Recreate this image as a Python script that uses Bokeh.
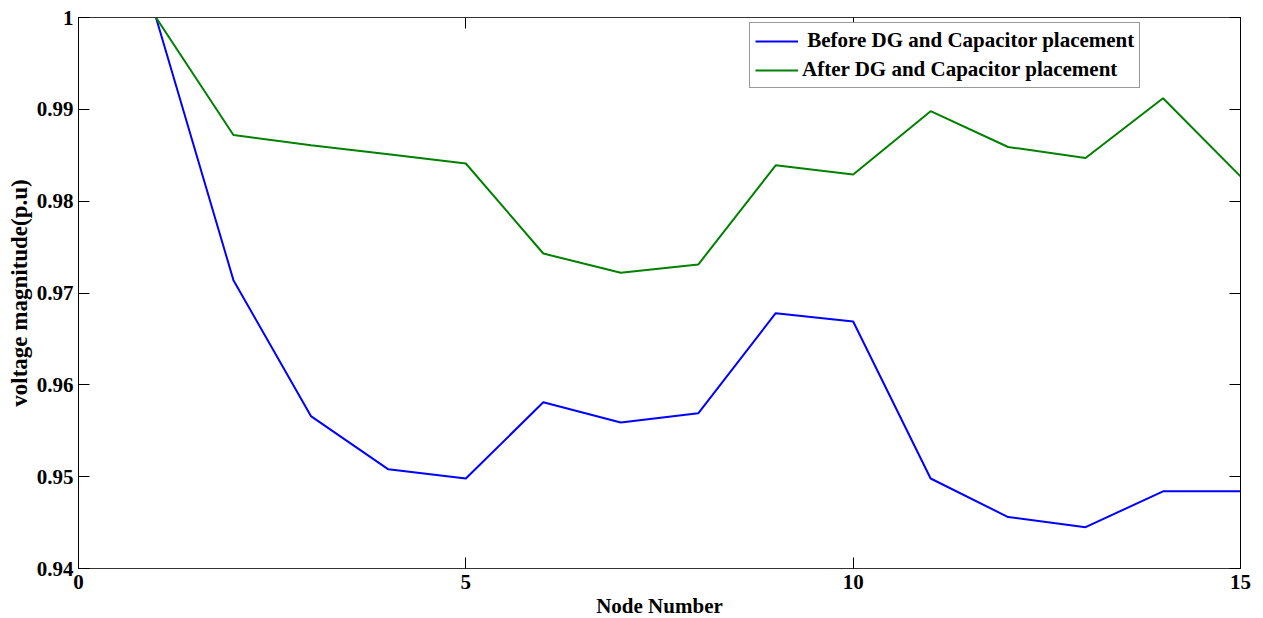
from bokeh.plotting import figure
from bokeh.models import LinearAxis, FixedTicker, Range1d, Legend, LegendItem, CustomLabelingPolicy
from bokeh.embed import file_html
from bokeh.resources import INLINE

nodes = list(range(1, 16))
before = [1.0, 0.9714, 0.9566, 0.9508, 0.9498, 0.9581, 0.9559, 0.9569,
          0.9678, 0.9669, 0.9498, 0.9456, 0.9445, 0.9484, 0.9484]
after = [1.0, 0.9872, 0.9861, 0.9851, 0.9841, 0.9743, 0.9722, 0.9731,
         0.9839, 0.9829, 0.9898, 0.9859, 0.9847, 0.9912, 0.9827]
x_ticks = [0, 5, 10, 15]
y_ticks = [0.94, 0.95, 0.96, 0.97, 0.98, 0.99, 1.0]
label_before = " Before DG and Capacitor placement"
label_after = "After DG and Capacitor placement"

FONT = "Liberation Serif"

p = figure(output_backend="svg", toolbar_location=None,
           frame_width=1162, frame_height=551,
           x_range=Range1d(0, 15), y_range=Range1d(0.94, 1.0),
           min_border_left=78, min_border_top=17, min_border_right=12,
           min_border_bottom=48)
p.grid.visible = False
p.outline_line_color = "#333333"
p.background_fill_color = "white"

r1 = p.line(nodes, before, line_color="#0000FF", line_width=2)
r2 = p.line(nodes, after, line_color="#008000", line_width=2)

hide_labels = CustomLabelingPolicy(code="""
const a = [...indices];
for (const i of a) indices.unset(i);
return indices;
""")

def style_axis(ax, labels=True):
    ax.major_tick_in = 11
    ax.major_tick_out = 0
    ax.minor_tick_in = 0
    ax.minor_tick_out = 0
    ax.major_tick_line_color = "black"
    ax.axis_line_color = "#333333"
    if labels:
        ax.major_label_text_font = FONT
        ax.major_label_text_font_style = "bold"
        ax.major_label_text_font_size = "21px"
        ax.major_label_text_color = "black"
    else:
        ax.major_label_policy = hide_labels

p.xaxis.ticker = FixedTicker(ticks=x_ticks)
p.yaxis.ticker = FixedTicker(ticks=y_ticks)
p.yaxis.formatter.use_scientific = False
style_axis(p.xaxis[0])
style_axis(p.yaxis[0])
p.yaxis[0].axis_line_color = "black"
p.xaxis.major_label_standoff = 6
p.yaxis.major_label_standoff = 5
p.xaxis.axis_label = "Node Number"
p.yaxis.axis_label = "voltage magnitude(p.u)"
p.xaxis.axis_label_text_font_size = "21px"
p.yaxis.axis_label_text_font_size = "23px"
for ax in (p.xaxis[0], p.yaxis[0]):
    ax.axis_label_text_font = FONT
    ax.axis_label_text_font_style = "bold"
    ax.axis_label_text_color = "black"
p.xaxis.axis_label_standoff = 2
p.yaxis.axis_label_standoff = 2

ax_top = LinearAxis(ticker=FixedTicker(ticks=x_ticks))
style_axis(ax_top, labels=False)
p.add_layout(ax_top, "above")
ax_right = LinearAxis(ticker=FixedTicker(ticks=y_ticks))
style_axis(ax_right, labels=False)
ax_right.axis_line_color = "black"
p.add_layout(ax_right, "right")

legend = Legend(items=[LegendItem(label=label_before, renderers=[r1]),
                       LegendItem(label=label_after, renderers=[r2])],
                location=(671, 480))
legend.label_text_font = FONT
legend.label_text_font_style = "bold"
legend.label_text_font_size = "21px"
legend.label_text_color = "black"
legend.glyph_width = 43
legend.glyph_height = 24
legend.label_height = 24
legend.label_standoff = 4
legend.spacing = 4
legend.padding = 5
legend.margin = 0
legend.border_line_color = "#333333"
legend.border_line_width = 1
legend.background_fill_alpha = 1
p.add_layout(legend, "center")

open("out.html", "w").write(file_html(p, INLINE))
